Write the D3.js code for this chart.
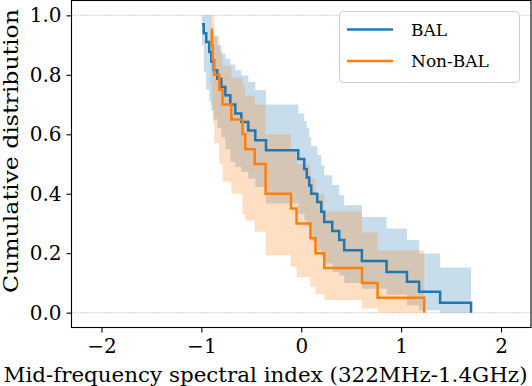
<!DOCTYPE html>
<html>
<head>
<meta charset="utf-8">
<script src="https://cdn.jsdelivr.net/npm/d3@7"></script>
<style>
  body { margin: 0; background: #fff; }
</style>
</head>
<body>
<div id="chart"></div>
<script>
// BAL: step start, level, lower/upper band
const bal_x  = [-0.994, -0.976, -0.951, -0.921, -0.901, -0.876, -0.841, -0.80, -0.76, -0.71, -0.66, -0.60, -0.53, -0.46, -0.353, -0.03, 0.03, 0.055, 0.08, 0.10, 0.16, 0.20, 0.23, 0.31, 0.38, 0.43, 0.607, 0.854, 1.058, 1.18, 1.39, 1.70];
const bal_y  = [0.97, 0.94, 0.91, 0.877, 0.845, 0.815, 0.787, 0.759, 0.731, 0.70, 0.67, 0.641, 0.613, 0.58, 0.546, 0.517, 0.483, 0.455, 0.428, 0.40, 0.372, 0.339, 0.305, 0.275, 0.244, 0.21, 0.174, 0.137, 0.1035, 0.07, 0.033, 0];
const bal_lo = [0.90, 0.81, 0.75, 0.71, 0.68, 0.65, 0.62, 0.59, 0.55, 0.507, 0.49, 0.473, 0.45, 0.423, 0.367, 0.333, 0.31, 0.29, 0.265, 0.24, 0.21, 0.19, 0.165, 0.137, 0.125, 0.10, 0.08, 0.06, 0.025, 0.008, 0, 0];
const bal_hi = [1.0, 1.0, 1.0, 1.0, 0.96, 0.93, 0.90, 0.87, 0.854, 0.835, 0.815, 0.798, 0.776, 0.748, 0.70, 0.67, 0.645, 0.62, 0.59, 0.56, 0.53, 0.496, 0.462, 0.429, 0.395, 0.361, 0.322, 0.283, 0.244, 0.199, 0.152, 0];

// Non-BAL
const non_x  = [-0.906, -0.896, -0.886, -0.871, -0.821, -0.788, -0.70, -0.588, -0.56, -0.466, -0.357, -0.103, -0.047, 0.092, 0.143, 0.23, 0.608, 0.764, 1.231];
const non_y  = [0.95, 0.90, 0.85, 0.80, 0.75, 0.70, 0.65, 0.60, 0.55, 0.50, 0.40, 0.35, 0.30, 0.25, 0.20, 0.15, 0.10, 0.05, 0];
const non_lo = [0.77, 0.70, 0.64, 0.57, 0.50, 0.44, 0.40, 0.33, 0.31, 0.272, 0.193, 0.154, 0.12, 0.087, 0.062, 0.042, 0.014, 0, 0];
const non_hi = [1.0, 1.0, 1.0, 0.93, 0.88, 0.83, 0.79, 0.76, 0.73, 0.70, 0.60, 0.55, 0.50, 0.45, 0.40, 0.34, 0.27, 0.21, 0];

const x_ticks = [-2, -1, 0, 1, 2];
const y_ticks = [0.0, 0.2, 0.4, 0.6, 0.8, 1.0];
const series_names = ["BAL", "Non-BAL"];
const colors = ["#1f77b4", "#ff7f0e"];

// find a serif font that is really there
function pick_font(list) {
    const c = document.createElement("canvas").getContext("2d");
    const s = "Mid-frequency spectral 0123456789";
    c.font = "40px monospace";
    const base = c.measureText(s).width;
    for (const f of list) {
        c.font = `40px "${f}", monospace`;
        if (Math.abs(c.measureText(s).width - base) > 0.5) return `"${f}"`;
    }
    return "serif";
}
const font = pick_font(["DejaVu Serif", "DejaVuSerif", "Bitstream Vera Serif", "Noto Serif", "Liberation Serif"]) + ", serif";

const width = 532, height = 386;
const margin = {top: 0.5, right: 1, bottom: 58.5, left: 71.5};

const svg = d3.select("#chart").append("svg")
    .attr("width", width)
    .attr("height", height)
    .attr("font-family", font);

const x = d3.scaleLinear()
    .domain([-2.3, 2.3])
    .range([margin.left, width - margin.right]);
const y = d3.scaleLinear()
    .domain([-0.05, 1.05])
    .range([height - margin.bottom, margin.top]);

// dotted lines at 0 and 1
svg.append("g")
    .selectAll("line")
    .data([0, 1])
    .join("line")
        .attr("x1", margin.left).attr("x2", width - margin.right)
        .attr("y1", d => y(d)).attr("y2", d => y(d))
        .attr("stroke", "#b0b0b0")
        .attr("stroke-width", 1)
        .attr("stroke-dasharray", "1,2");

function make_rows(xs, ys, lo, hi) {
    return xs.map((v, i) => ({x: v, y: ys[i], lo: lo[i], hi: hi[i]}));
}
const groups = [
    make_rows(bal_x, bal_y, bal_lo, bal_hi),
    make_rows(non_x, non_y, non_lo, non_hi)
];

const area = d3.area()
    .curve(d3.curveStepAfter)
    .x(d => x(d.x))
    .y0(d => y(d.lo))
    .y1(d => y(d.hi));
const line = d3.line()
    .curve(d3.curveStepAfter)
    .x(d => x(d.x))
    .y(d => y(d.y));

groups.forEach((g, i) => {
    svg.append("path")
        .attr("d", area(g))
        .attr("fill", colors[i])
        .attr("fill-opacity", 0.25);
});
groups.forEach((g, i) => {
    svg.append("path")
        .attr("d", line(g))
        .attr("fill", "none")
        .attr("stroke", colors[i])
        .attr("stroke-width", 2.5);
});

// axes
const xAxis = svg.append("g")
    .attr("transform", `translate(0,${height - margin.bottom})`)
    .call(d3.axisBottom(x).tickValues(x_ticks).tickSize(5).tickPadding(6)
        .tickFormat(d => d < 0 ? "\u2212" + Math.abs(d) : d));
const yAxis = svg.append("g")
    .attr("transform", `translate(${margin.left},0)`)
    .call(d3.axisLeft(y).tickValues(y_ticks).tickSize(5).tickPadding(5)
        .tickFormat(d3.format(".1f")));
[xAxis, yAxis].forEach(a => {
    a.attr("font-family", font);
    a.select(".domain").remove();
    a.selectAll("line").attr("stroke", "#000").attr("stroke-width", 1.1);
    a.selectAll("text").attr("font-size", "20px").attr("fill", "#000");
});

// frame
svg.append("rect")
    .attr("x", margin.left).attr("y", margin.top)
    .attr("width", width - margin.right - margin.left)
    .attr("height", height - margin.bottom - margin.top)
    .attr("fill", "none")
    .attr("stroke", "#000")
    .attr("stroke-width", 1.1);

svg.append("text")
    .attr("x", 265.5)
    .attr("y", 382)
    .attr("text-anchor", "middle")
    .attr("font-size", "20px")
    .attr("textLength", 524)
    .attr("lengthAdjust", "spacingAndGlyphs")
    .text("Mid-frequency spectral index (322MHz-1.4GHz)");
svg.append("text")
    .attr("transform", "translate(18,151) rotate(-90)")
    .attr("text-anchor", "middle")
    .attr("font-size", "20px")
    .attr("textLength", 284)
    .attr("lengthAdjust", "spacingAndGlyphs")
    .text("Cumulative distribution");

// legend
const legend = svg.append("g");
legend.append("rect")
    .attr("x", 339.5).attr("y", 11.5)
    .attr("width", 180).attr("height", 71)
    .attr("rx", 4)
    .attr("fill", "#fff").attr("fill-opacity", 0.8)
    .attr("stroke", "#ccc");
series_names.forEach((name, i) => {
    const ly = 29.5 + i * 31.5;
    legend.append("line")
        .attr("x1", 347).attr("x2", 393)
        .attr("y1", ly).attr("y2", ly)
        .attr("stroke", colors[i]).attr("stroke-width", 2.5);
    legend.append("text")
        .attr("x", 411).attr("y", ly + 6.2)
        .attr("font-size", "17px")
        .text(name);
});
</script>
</body>
</html>
